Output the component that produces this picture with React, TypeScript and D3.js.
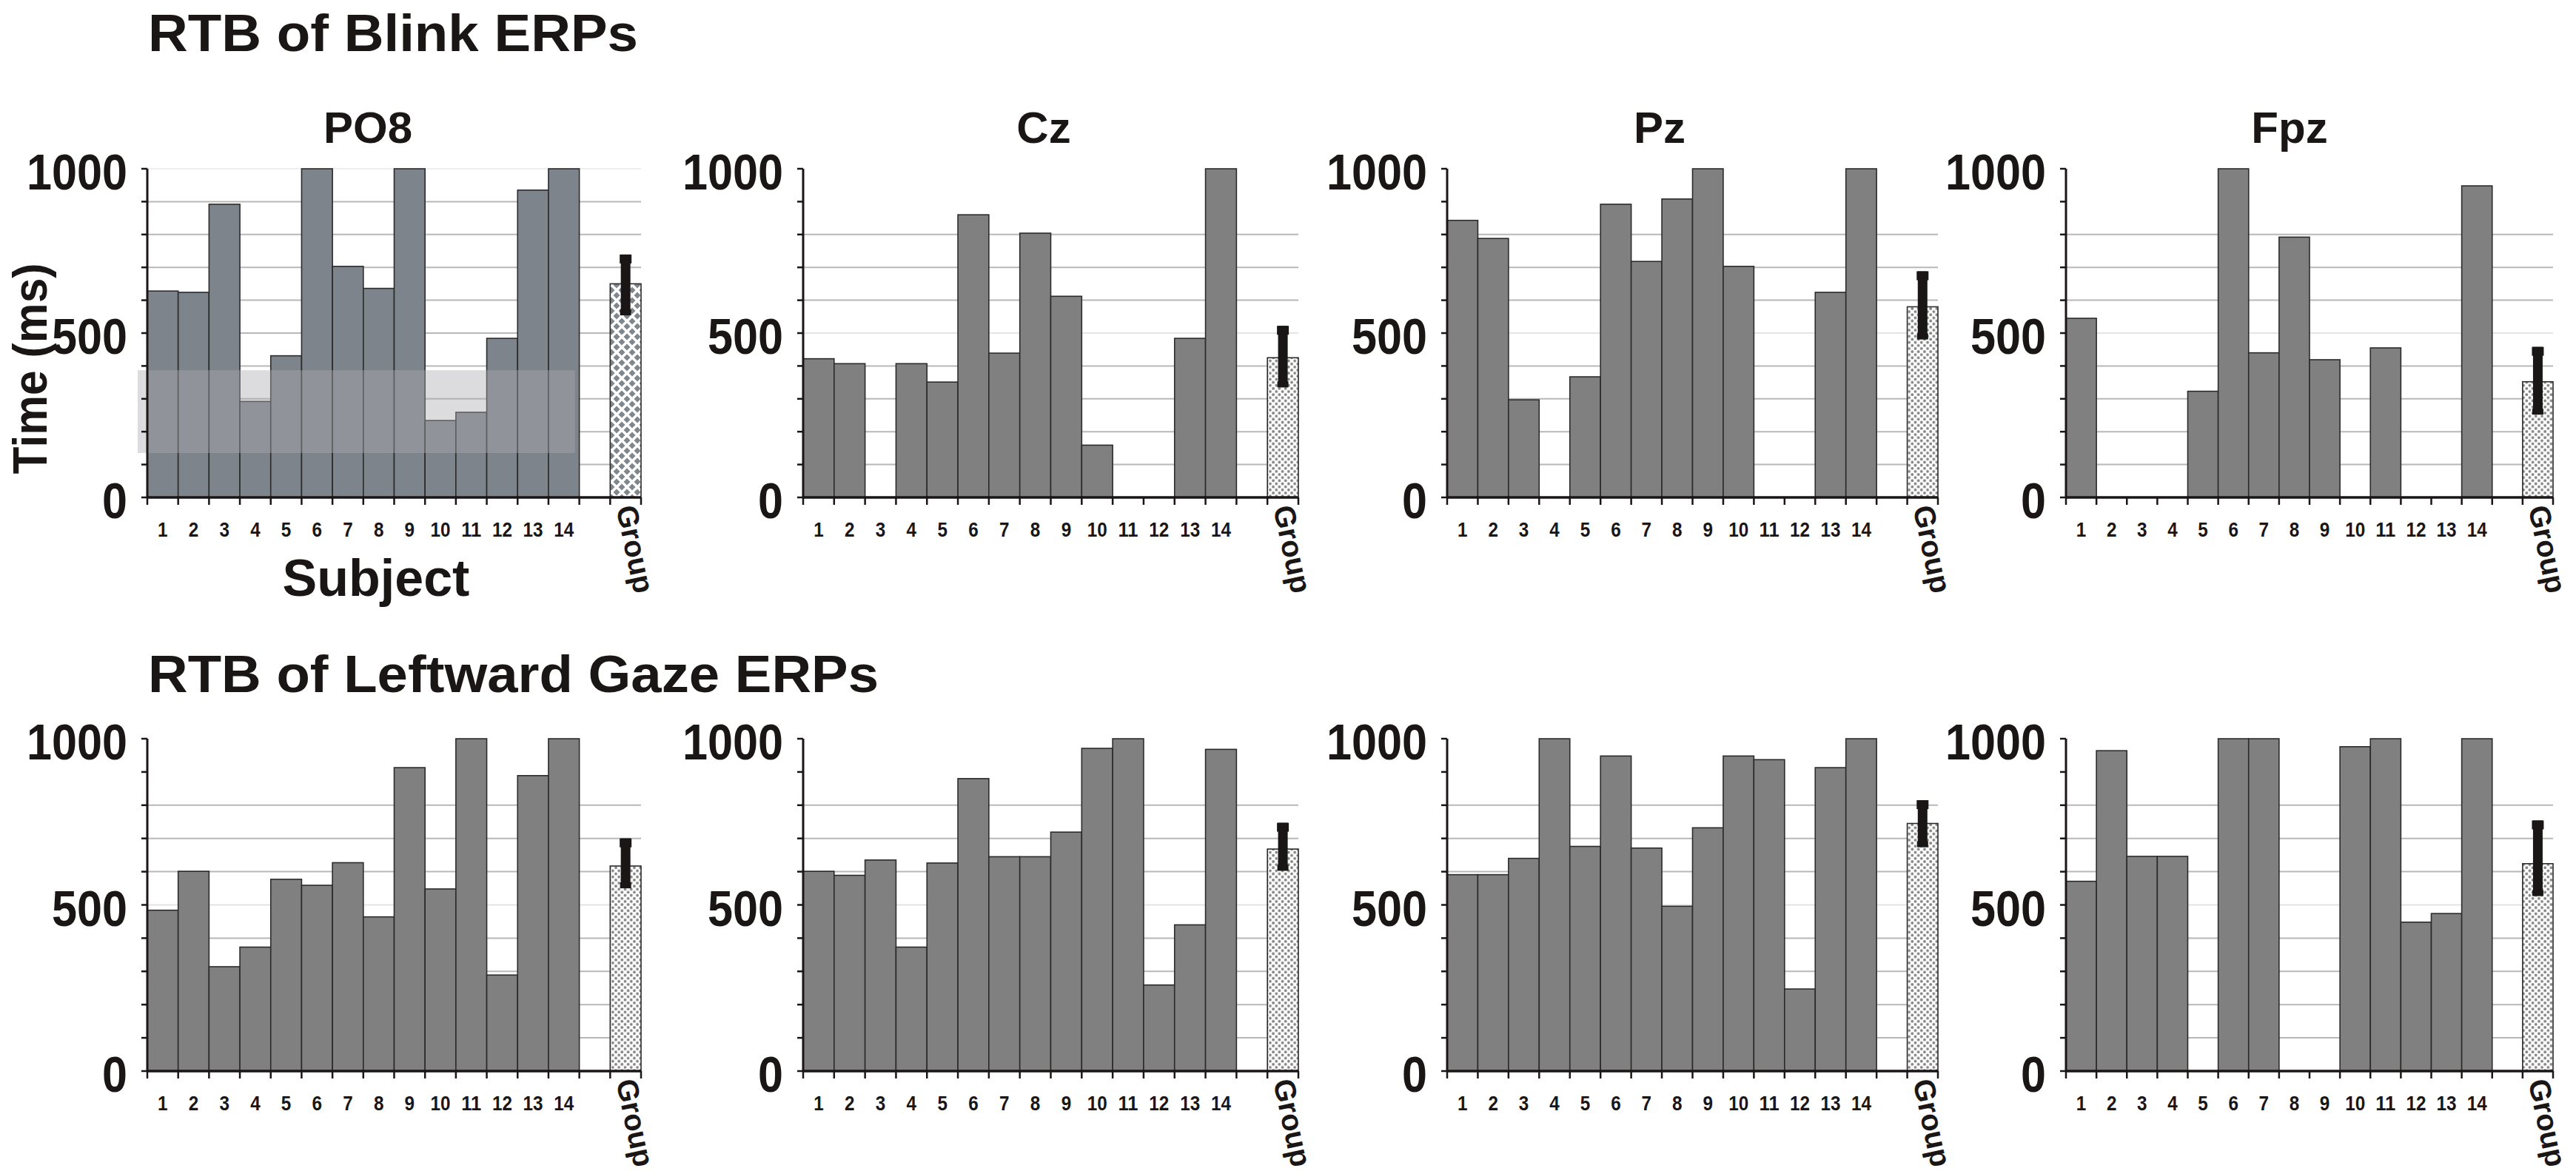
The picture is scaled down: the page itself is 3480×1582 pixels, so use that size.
import * as d3 from "d3"

// subjects on the x axis, then an empty slot and the group mean
const subjects = ["1", "2", "3", "4", "5", "6", "7", "8", "9", "10", "11", "12", "13", "14"]
const slots = [...subjects, "gap", "Group"]
const electrodes = ["PO8", "Cz", "Pz", "Fpz"]
const yTicks = [0, 500, 1000]
const minorTicks = [0, 100, 200, 300, 400, 500, 600, 700, 800, 900, 1000]
const gridValues = [100, 200, 300, 400, 500, 600, 700, 800]

// RTB of Blink ERPs (ms)
const blinkPO8 = [628, 624, 892, 292, 431, 1000, 703, 636, 1000, 234, 259, 484, 935, 1000]
const blinkCz = [422, 407, 0, 407, 351, 860, 439, 804, 612, 159, 0, 0, 484, 1000]
const blinkPz = [843, 788, 297, 0, 367, 892, 718, 908, 1000, 703, 0, 0, 624, 1000]
const blinkFpz = [545, 0, 0, 0, 323, 1000, 440, 792, 419, 0, 455, 0, 0, 948]
const blinkGroup = [650, 425, 580, 352]
const blinkErrLow = [554, 335, 481, 252]
const blinkErrHigh = [739, 522, 688, 458]

// RTB of Leftward Gaze ERPs (ms)
const gazePO8 = [484, 601, 314, 373, 577, 559, 627, 464, 913, 548, 1000, 289, 889, 1000]
const gazeCz = [601, 589, 635, 373, 626, 880, 645, 645, 719, 971, 1000, 259, 440, 968]
const gazePz = [591, 591, 640, 1000, 676, 948, 671, 496, 732, 948, 937, 247, 913, 1000]
const gazeFpz = [571, 964, 646, 646, 0, 1000, 1000, 0, 0, 976, 1000, 448, 474, 1000]
const gazeGroup = [617, 668, 745, 624]
const gazeErrLow = [550, 603, 674, 527]
const gazeErrHigh = [700, 747, 815, 754]

// shaded band drawn over the first panel (ms)
const bandRange = [135, 387]

const W = 3480
const H = 1582
const INK = "#1a1616"
const FONT = "'Liberation Sans', Arial, Helvetica, sans-serif"
const axisXs = [199, 1085, 1955, 2791]
const plotWs = [667, 669, 663, 658]
const titleXs = [497, 1410, 2242, 3093]
const rows = [
  { y0: 672, y1: 228, title: "RTB of Blink ERPs", titleY: 69, titleLen: 662, series: [blinkPO8, blinkCz, blinkPz, blinkFpz], group: blinkGroup, lo: blinkErrLow, hi: blinkErrHigh },
  { y0: 1447, y1: 998, title: "RTB of Leftward Gaze ERPs", titleY: 935, titleLen: 987, series: [gazePO8, gazeCz, gazePz, gazeFpz], group: gazeGroup, lo: gazeErrLow, hi: gazeErrHigh },
]

function Panel({ row, col, values, group, lo, hi }: any) {
  const r = rows[row]
  const left = axisXs[col]
  const right = left + plotWs[col]
  const x = d3.scaleBand().domain(slots).range([left, right]).paddingInner(0)
  const y = d3.scaleLinear().domain([0, 1000]).range([r.y0, r.y1])
  const bw = x.bandwidth()
  const special = row === 0 && col === 0
  const barFill = special ? "#7e848b" : "#808080"
  const gx = x("Group") as number
  const gc = gx + bw / 2
  const grids = special ? [...gridValues, 900, 1000] : gridValues

  return (
    <g>
      {grids.map((v) => (
        <line key={v} x1={left} x2={right} y1={y(v)} y2={y(v)}
          stroke={v === 500 && !special ? "#e4e4e4" : v === 1000 ? "#eeeeee" : "#b8b8b8"} strokeWidth={2} />
      ))}
      {values.map((v: number, i: number) =>
        v > 0 ? (
          <rect key={i} x={x(subjects[i])} y={y(v)} width={bw} height={y(0) - y(v)}
            fill={barFill} stroke="#2b2b2b" strokeWidth={1.6} />
        ) : null
      )}
      <rect x={gx} y={y(group)} width={bw} height={y(0) - y(group)}
        fill={special ? "url(#diamonds)" : "url(#dots)"} stroke="#2b2b2b" strokeWidth={1.6} />
      {special && (
        <rect x={left - 13} y={y(bandRange[1])} width={(x("14") as number) + bw * 0.86 - (left - 13)}
          height={y(bandRange[0]) - y(bandRange[1])} fill="#a9abae" fillOpacity={0.41} />
      )}
      {/* error bar */}
      <rect x={gc - 6.5} y={y(hi)} width={13} height={y(lo) - y(hi)} fill={INK} />
      <rect x={gc - 8} y={y(hi)} width={16} height={12} fill={INK} />
      <rect x={gc - 7.5} y={y(lo) - 8} width={15} height={8} fill={INK} />
      {/* y axis */}
      <line x1={left} x2={left} y1={y(1000)} y2={y(0)} stroke={INK} strokeWidth={3} />
      {minorTicks.map((v) => (
        <line key={v} x1={left - 8} x2={left} y1={y(v)} y2={y(v)} stroke={INK} strokeWidth={2.5} />
      ))}
      {yTicks.map((v) => (
        <text key={v} x={left - 27} y={y(v) + 4} textAnchor="end" dominantBaseline="central"
          fontSize={68} fontWeight="bold" fill={INK}
          textLength={String(v).length * 34} lengthAdjust="spacingAndGlyphs">{v}</text>
      ))}
      {/* x axis */}
      <line x1={left} x2={right} y1={y(0)} y2={y(0)} stroke={INK} strokeWidth={3.5} />
      {[...slots.map((s) => x(s) as number), right].map((px, i) => (
        <line key={i} x1={px} x2={px} y1={y(0)} y2={y(0) + 10} stroke={INK} strokeWidth={2.5} />
      ))}
      {subjects.map((s) => (
        <text key={s} x={(x(s) as number) + bw / 2} y={y(0) + 53} textAnchor="middle"
          fontSize={27} fontWeight="bold" fill={INK}
          textLength={s.length * 13.5} lengthAdjust="spacingAndGlyphs">{s}</text>
      ))}
      <text transform={`translate(${gc - 13},${y(0) + 14}) rotate(78)`} fontSize={40}
        fontWeight="bold" fill={INK}>Group</text>
      {row === 0 && (
        <text x={titleXs[col]} y={193} textAnchor="middle" fontSize={60} fontWeight="bold" fill={INK}>
          {electrodes[col]}
        </text>
      )}
    </g>
  )
}

export default function App() {
  return (
    <svg width={W} height={H} viewBox={`0 0 ${W} ${H}`}
      style={{ position: "absolute", left: 0, top: 0, background: "#fff", fontFamily: FONT }}>
      <defs>
        <pattern id="diamonds" patternUnits="userSpaceOnUse" width={14} height={14}>
          <rect width={14} height={14} fill="#fff" />
          <polygon points="7,2.5 11.5,7 7,11.5 2.5,7" fill="#7f868c" />
          <polygon points="0,-4.5 4.5,0 0,4.5 -4.5,0" fill="#7f868c" />
          <polygon points="14,-4.5 18.5,0 14,4.5 9.5,0" fill="#7f868c" />
          <polygon points="0,9.5 4.5,14 0,18.5 -4.5,14" fill="#7f868c" />
          <polygon points="14,9.5 18.5,14 14,18.5 9.5,14" fill="#7f868c" />
        </pattern>
        <pattern id="dots" patternUnits="userSpaceOnUse" width={8.3} height={8.3}>
          <rect width={8.3} height={8.3} fill="#fff" />
          <circle cx={2} cy={2} r={1.9} fill="#858585" />
          <circle cx={6.15} cy={6.15} r={1.9} fill="#858585" />
        </pattern>
      </defs>
      <rect width={W} height={H} fill="#fff" />
      {rows.map((r, ri) => (
        <g key={ri}>
          <text x={200} y={r.titleY} fontSize={70} fontWeight="bold" fill={INK}
            textLength={r.titleLen} lengthAdjust="spacingAndGlyphs">{r.title}</text>
          {r.series.map((vals, ci) => (
            <Panel key={ci} row={ri} col={ci} values={vals} group={r.group[ci]} lo={r.lo[ci]} hi={r.hi[ci]} />
          ))}
        </g>
      ))}
      <text transform="translate(63,498) rotate(-90)" textAnchor="middle" fontSize={64}
        fontWeight="bold" fill={INK} textLength={285} lengthAdjust="spacingAndGlyphs">Time (ms)</text>
      <text x={508} y={805} textAnchor="middle" fontSize={70} fontWeight="bold" fill={INK}>Subject</text>
    </svg>
  )
}
